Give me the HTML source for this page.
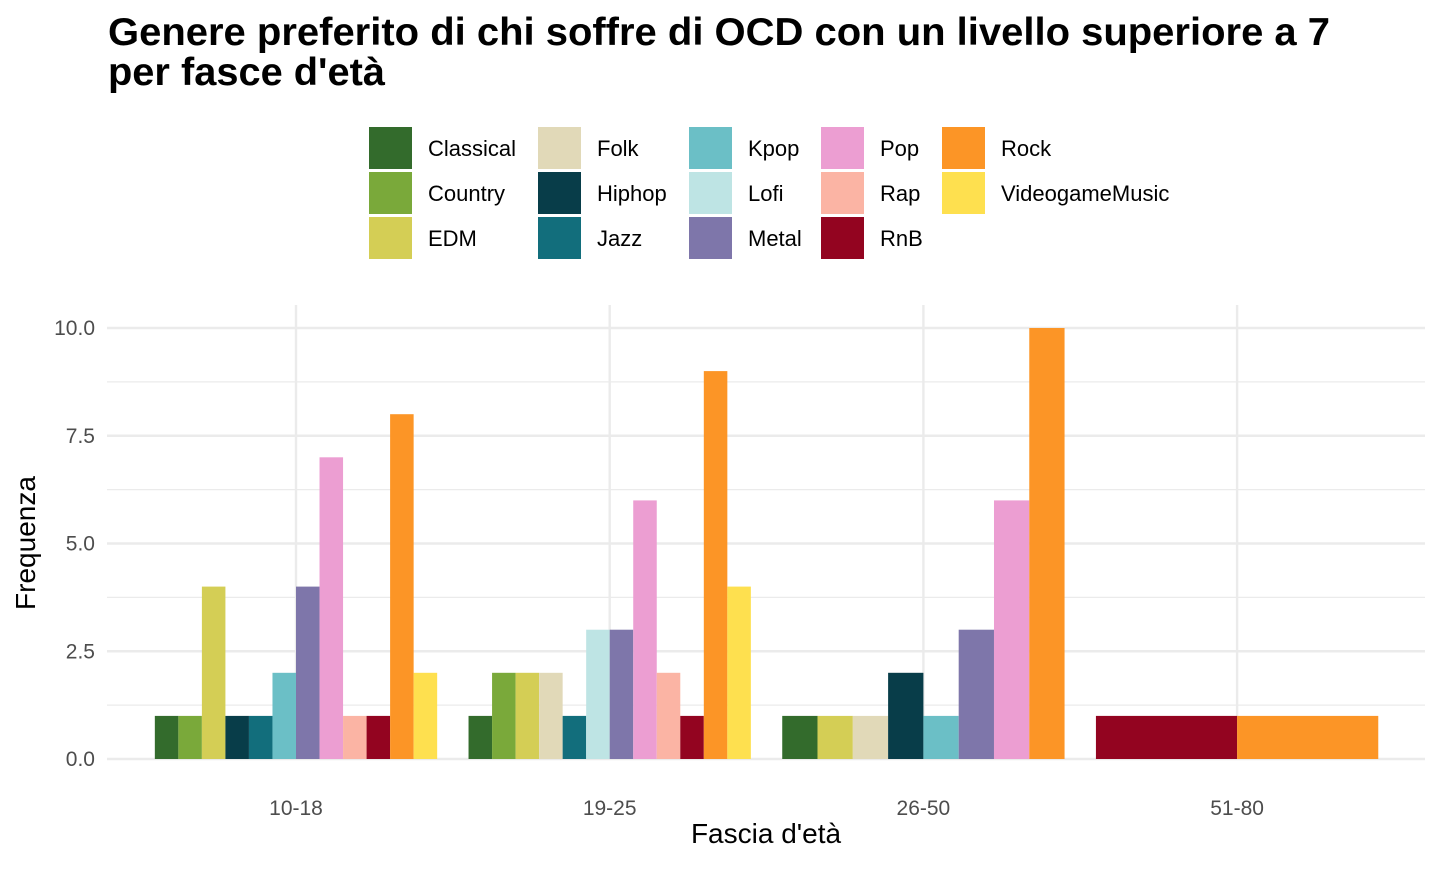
<!DOCTYPE html>
<html><head><meta charset="utf-8">
<style>
body{margin:0;background:#fff;font-family:"Liberation Sans",Arial,sans-serif;}
svg text{font-family:"Liberation Sans",Arial,sans-serif;}
</style></head>
<body>
<svg id="chart" width="1440" height="864" xmlns="http://www.w3.org/2000/svg">
<text x="108" y="45" font-size="39" font-weight="bold" fill="#000" textLength="1222" lengthAdjust="spacingAndGlyphs">Genere preferito di chi soffre di OCD con un livello superiore a 7</text>
<text x="108" y="85" font-size="39" font-weight="bold" fill="#000" textLength="277" lengthAdjust="spacingAndGlyphs">per fasce d'età</text>
<g id="grid"></g>
<g id="bars"></g>
<g id="axes"></g>
<g id="legend"></g>
<text x="766" y="843" font-size="28" text-anchor="middle" fill="#000">Fascia d'età</text>
<text transform="translate(35,543) rotate(-90)" font-size="28" text-anchor="middle" fill="#000">Frequenza</text>
</svg>
<script>
const categories = ["10-18","19-25","26-50","51-80"];
const genres = ["Classical","Country","EDM","Folk","Hiphop","Jazz","Kpop","Lofi","Metal","Pop","Rap","RnB","Rock","VideogameMusic"];
const colors = ["#336b2c","#7aa93a","#d4ce55","#e1d9b8","#083d49","#126e7c","#6bbfc6","#bee4e4","#7e76aa","#ec9ed2","#fbb4a4","#930420","#fc9526","#fee04f"];
const vals1018 = {Classical:1,Country:1,EDM:4,Hiphop:1,Jazz:1,Kpop:2,Metal:4,Pop:7,Rap:1,RnB:1,Rock:8,VideogameMusic:2};
const vals1925 = {Classical:1,Country:2,EDM:2,Folk:2,Jazz:1,Lofi:3,Metal:3,Pop:6,Rap:2,RnB:1,Rock:9,VideogameMusic:4};
const vals2650 = {Classical:1,EDM:1,Folk:1,Hiphop:2,Kpop:1,Metal:3,Pop:6,Rock:10};
const vals5180 = {RnB:1,Rock:1};
const yTicks = [0,2.5,5,7.5,10];
const yTickLabels = ["0.0","2.5","5.0","7.5","10.0"];

const NS="http://www.w3.org/2000/svg";
const plotL=107, plotR=1425, plotT=305, plotB=759;
const y0=759, pxPerUnit=43.1;
function yScale(v){return y0 - v*pxPerUnit;}
const step=313.7;
function xScale(i){return 296 + step*i;}
function mk(tag,attrs,parent){const e=document.createElementNS(NS,tag);for(const k in attrs)e.setAttribute(k,attrs[k]);parent.appendChild(e);return e;}

const grid=document.getElementById('grid');
for(let i=0;i<yTicks.length-1;i++){
  const m=(yTicks[i]+yTicks[i+1])/2;
  const l=mk('line',{x1:plotL,x2:plotR,y1:yScale(m),y2:yScale(m),stroke:"#ebebeb","stroke-width":1.2},grid);
  
  
}
yTicks.forEach((t,i)=>{
  const l=mk('line',{x1:plotL,x2:plotR,y1:yScale(t),y2:yScale(t),stroke:"#ebebeb","stroke-width":2.4},grid);
  
  
  const tx=mk('text',{x:95,y:yScale(t)+7,"font-size":21,"text-anchor":"end",fill:"#4d4d4d"},document.getElementById('axes'));
  tx.textContent=yTickLabels[i];
  
  
});
categories.forEach((c,i)=>{
  const l=mk('line',{x1:xScale(i),x2:xScale(i),y1:plotT,y2:plotB,stroke:"#ebebeb","stroke-width":2.4},grid);
  
  
  const tx=mk('text',{x:xScale(i),y:815,"font-size":21,"text-anchor":"middle",fill:"#4d4d4d"},document.getElementById('axes'));
  tx.textContent=c;
  
  
});

const allVals=[vals1018,vals1925,vals2650,vals5180];
const bars=document.getElementById('bars');
allVals.forEach((obj,ci)=>{
  const present=genres.filter(g=>obj[g]!=null);
  const gw=step*0.9, bw=gw/present.length;
  const start=xScale(ci)-gw/2;
  present.forEach((g,j)=>{
    const v=obj[g];
    const r=mk('rect',{x:start+j*bw,y:yScale(v),width:bw,height:yScale(0)-yScale(v),fill:colors[genres.indexOf(g)]},bars);
    
    
  });
});

const legend=document.getElementById('legend');
const colX=[369,538,689,821,942];
const rowY=[127,172,217];
genres.forEach((g,i)=>{
  const col=Math.floor(i/3), row=i%3;
  const r=mk('rect',{x:colX[col],y:rowY[row],width:43,height:42,fill:colors[i]},legend);
  
  
  const t=mk('text',{x:colX[col]+59,y:rowY[row]+29,"font-size":22,fill:"#000"},legend);
  t.textContent=g;
  
  
});
</script>
</body></html>
